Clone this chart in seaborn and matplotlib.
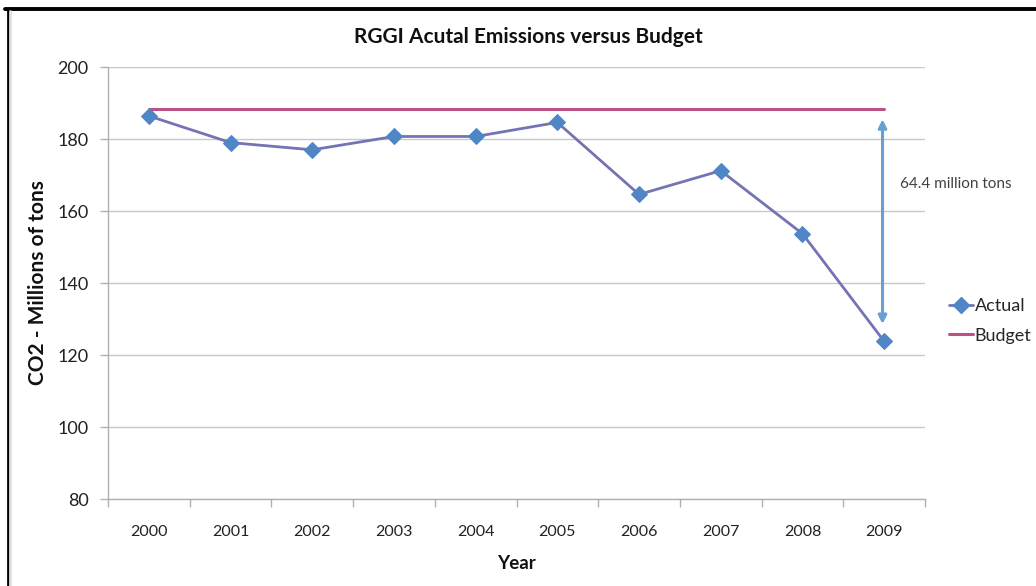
import matplotlib
matplotlib.use("Agg")
import matplotlib.pyplot as plt
import seaborn as sns
import pandas as pd
from matplotlib.lines import Line2D

years = ["2000", "2001", "2002", "2003", "2004", "2005", "2006", "2007", "2008", "2009"]
actual = [186.4, 179.0, 177.0, 180.7, 180.7, 184.6, 164.6, 171.2, 153.7, 123.8]
budget = [188.2] * 10
gap_label = "64.4 million tons"

sns.set_theme(style="white")
plt.rcParams['font.family'] = ['Lato', 'DejaVu Sans']

df = pd.DataFrame({"Year": years, "Actual": actual, "Budget": budget})

fig = plt.figure(figsize=(10.36, 5.86), dpi=100)
ax = fig.add_axes([108/1036, 1-499/586, (925-108)/1036, (499-67)/586])

actual_color = "#4f86c6"
actual_line = "#7474b4"
budget_color = "#bc5283"

sns.lineplot(data=df, x="Year", y="Budget", ax=ax, color=budget_color, lw=2.2, sort=False)
sns.lineplot(data=df, x="Year", y="Actual", ax=ax, color=actual_line, lw=2.0, sort=False,
             marker="D", markersize=8, markerfacecolor=actual_color, markeredgecolor=actual_color)

ax.set_ylim(80, 200)
ax.set_xlim(-0.5, 9.5)
ax.set_yticks(range(80, 201, 20))
ax.yaxis.grid(True, color="#c8c8c8", lw=1)
ax.set_axisbelow(True)
for s in ["top", "right"]:
    ax.spines[s].set_visible(False)
for s in ["left", "bottom"]:
    ax.spines[s].set_color("#b0b0b0")
    ax.spines[s].set_linewidth(1)

ax.set_xticks(range(10))
ax.set_xticklabels(years)
ax.set_xticks([i - 0.5 for i in range(11)], minor=True)
ax.tick_params(axis="x", which="major", length=0, pad=19, labelsize=11.5, colors="#222222")
ax.tick_params(axis="x", which="minor", length=6, color="#b0b0b0", width=1, bottom=True)
ax.tick_params(axis="y", which="major", length=6, color="#b0b0b0", width=1, left=True, pad=8,
               labelsize=13, labelcolor="#222222")

ax.set_xlabel("Year", fontsize=13.5, fontweight="bold", labelpad=11, color="#111111")
ax.set_ylabel("CO2 - Millions of tons", fontsize=15, fontweight="bold", labelpad=7, color="#111111")

ax.annotate("", xy=(8.98, 185.5), xytext=(8.98, 128.6),
            arrowprops=dict(arrowstyle="<|-|>", color="#6a9fd4", lw=2.2,
                            mutation_scale=12, shrinkA=0, shrinkB=0))
ax.text(9.2, 167.5, gap_label, fontsize=11, color="#404040", va="center", ha="left")

fig.text(0.51, 1-37/586, "RGGI Acutal Emissions versus Budget", ha="center", va="center",
         fontsize=15, fontweight="bold", color="#111111")

handles = [Line2D([0], [0], color=actual_line, lw=2, marker="D", markersize=8,
                  markerfacecolor=actual_color, markeredgecolor=actual_color),
           Line2D([0], [0], color=budget_color, lw=2.2)]
fig.legend(handles, ["Actual", "Budget"], loc="center left",
           bbox_to_anchor=(942/1036, 1-321/586), frameon=False, fontsize=13,
           handlelength=1.3, handletextpad=0.1, labelspacing=0.75, borderaxespad=0)

fig.add_artist(Line2D([5/1036, 1], [1-9/586, 1-9/586], color="black", lw=2.8, transform=fig.transFigure))
fig.add_artist(Line2D([7.5/1036, 7.5/1036], [0, 1-9/586], color="black", lw=2, transform=fig.transFigure))
fig.add_artist(Line2D([10/1036, 10/1036], [0, 1-11/586], color="#e0e0e0", lw=2, transform=fig.transFigure))

fig.savefig("out.png", dpi=100)
